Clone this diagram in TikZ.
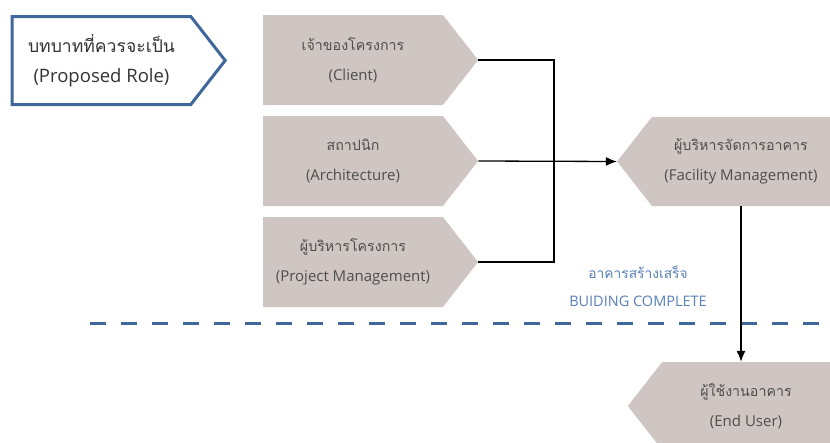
\documentclass[tikz,border=0pt]{standalone}
\usepackage{fontspec}
\setmainfont{Open Sans}
\newfontfamily\thaifont[Script=Thai,Scale=0.95]{Loma}
\usetikzlibrary{shapes.symbols,arrows.meta}

\definecolor{boxgrey}{RGB}{207,198,195}
\definecolor{rolegrey}{RGB}{78,78,78}
\definecolor{lineblue}{RGB}{64,103,155}
\definecolor{textblue}{RGB}{88,128,182}

\tikzset{
    role/.style={signal, signal to=east, signal pointer angle=104, fill=boxgrey,
        text=rolegrey, minimum width=215pt, minimum height=90pt, inner sep=0pt,
        align=center, font=\fontsize{15}{30}\selectfont},
    roleleft/.style={role, signal to=west},
    heading/.style={role, fill=white, draw=lineblue, line width=3pt, text=black!80,
        minimum width=213pt, minimum height=88pt, font=\fontsize{18.5}{30}\selectfont},
    link/.style={line width=1.3pt},
    milestone/.style={line width=3pt, lineblue, dash pattern=on 16pt off 15pt},
}

\begin{document}
\begin{tikzpicture}[x=1pt,y=-1pt]
    \useasboundingbox (0,0) rectangle (830,442);
    \clip (0,0) rectangle (830,442);

    %blocks
    \node[heading] (proposed) at (101.5,60.5) {{\thaifont บทบาทที่ควรจะเป็น}\\(Proposed Role)};
    \node[role] (client) at (353,60) {{\thaifont เจ้าของโครงการ}\\(Client)};
    \node[role] (arch) at (353,161) {{\thaifont สถาปนิก}\\(Architecture)};
    \node[role] (pm) at (353,262) {{\thaifont ผู้บริหารโครงการ}\\(Project Management)};
    \node[roleleft, minimum width=213pt, minimum height=89pt] (facility) at (741,161.5)
        {{\thaifont ผู้บริหารจัดการอาคาร}\\(Facility Management)};
    \node[roleleft, minimum width=202pt, minimum height=88pt] (enduser) at (746,406)
        {{\thaifont ผู้ใช้งานอาคาร}\\(End User)};

    %milestone
    \node[text=textblue, align=center, font=\fontsize{14.5}{28}\selectfont] (complete) at (638,286)
        {{\thaifont อาคารสร้างเสร็จ}\\BUIDING COMPLETE};
    \coordinate (dashL) at (90,323);
    \coordinate (dashR) at (830,323);
    \draw[milestone] (dashL) -- (dashR);

    %arrows
    \coordinate (joint) at (554,161);
    \draw[link] (client.east) -| (joint) |- (pm.east);
    \draw[link,-{Latex[length=11pt,width=9pt]}] (arch.east) -- (facility.west);
    \draw[link,-{Latex[length=11pt,width=9pt]}] (facility.south) -- (facility.south |- enduser.north);
\end{tikzpicture}
\end{document}
